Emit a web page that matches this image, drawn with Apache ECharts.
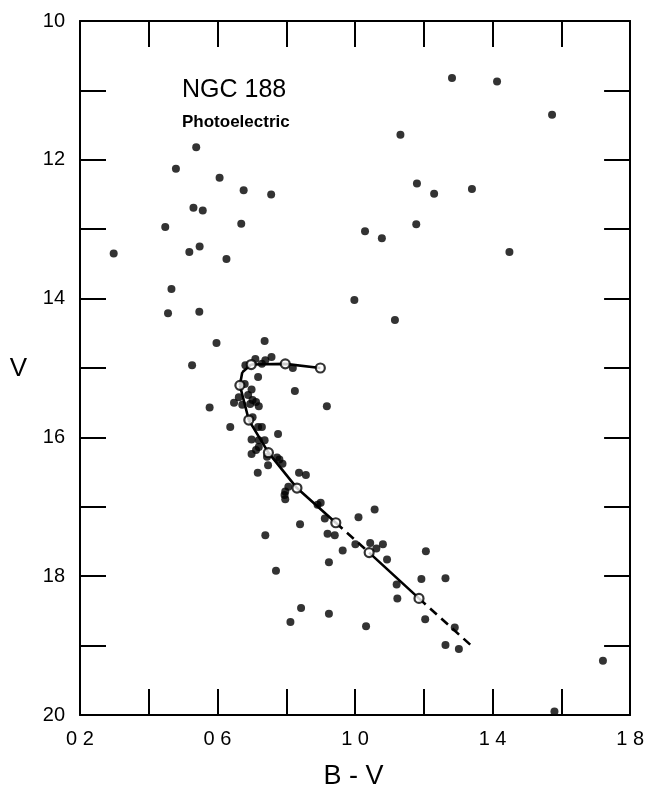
<!DOCTYPE html>
<html>
<head>
<meta charset="utf-8">
<script src="https://cdn.jsdelivr.net/npm/echarts@6/dist/echarts.min.js"></script>
<style>
  html, body { margin: 0; padding: 0; background: #fff; }
  #chart { width: 647px; height: 788px; }
</style>
</head>
<body>
<div id="chart"></div>
<script>
// ---- Data ----
// Filled dots: individual stars (B-V colour, V magnitude)
const starBV = [
  1.282, 1.413, 1.573, 1.132, 0.538, 0.479, 0.606, 0.676, 0.756, 1.18, 1.23, 1.34,
  0.53, 0.557, 0.448, 0.669, 1.029, 1.078, 1.178, 0.298, 0.518, 0.548, 1.449, 0.626,
  0.466, 0.998, 0.456, 0.547, 1.116, 0.597, 0.737, 0.526,
  0.710, 0.757, 0.681, 0.729, 0.739, 0.819, 0.718, 0.679, 0.699, 0.825, 0.648, 0.662,
  0.689, 0.702, 0.712, 0.672, 0.695, 0.72, 0.577, 0.918, 0.702, 0.718, 0.729, 0.637,
  0.776, 0.699, 0.72, 0.737, 0.72, 0.712, 0.699, 0.744, 0.773, 0.78, 0.747, 0.789,
  0.717, 0.837, 0.857, 0.806, 0.797, 0.795, 0.797, 0.891, 0.90, 0.912, 1.01, 1.057,
  0.84, 0.92, 0.941, 0.739,
  1.001, 1.044, 1.062, 1.081, 0.964, 1.206, 1.093, 0.770, 0.924, 1.121, 1.193, 1.263,
  1.123, 0.843, 0.924, 0.812, 1.032, 1.204, 1.29, 1.263, 1.302, 1.721, 1.58
];
const starV = [
  10.82, 10.87, 11.35, 11.64, 11.82, 12.13, 12.26, 12.44, 12.50, 12.34, 12.49, 12.42,
  12.69, 12.73, 12.97, 12.92, 13.03, 13.13, 12.93, 13.35, 13.33, 13.25, 13.33, 13.43,
  13.86, 14.02, 14.21, 14.19, 14.31, 14.64, 14.61, 14.96,
  14.87, 14.84, 14.96, 14.94, 14.89, 15.00, 15.13, 15.23, 15.31, 15.33, 15.50, 15.42,
  15.39, 15.46, 15.49, 15.53, 15.52, 15.55, 15.57, 15.55, 15.71, 15.85, 15.85, 15.85,
  15.95, 16.03, 16.04, 16.04, 16.14, 16.18, 16.24, 16.28, 16.29, 16.32, 16.40, 16.38,
  16.51, 16.51, 16.54, 16.71, 16.78, 16.83, 16.89, 16.97, 16.94, 17.17, 17.15, 17.04,
  17.25, 17.39, 17.41, 17.41,
  17.54, 17.52, 17.60, 17.54, 17.63, 17.64, 17.76, 17.92, 17.80, 18.12, 18.04, 18.03,
  18.32, 18.46, 18.54, 18.66, 18.72, 18.62, 18.74, 18.99, 19.05, 19.22, 19.95
];

// Open circles: normal points of the fiducial sequence
const fiducialBV = [0.899, 0.797, 0.698, 0.665, 0.691, 0.748, 0.831, 0.944, 1.041, 1.186];
const fiducialV  = [15.00, 14.94, 14.95, 15.25, 15.75, 16.22, 16.73, 17.23, 17.66, 18.32];

// Fiducial line vertices (drawn through the open circles)
const ridgeBV = [0.899, 0.797, 0.698, 0.672, 0.665, 0.691, 0.748, 0.831, 0.944, 1.041, 1.186, 1.338];
const ridgeV  = [15.00, 14.94, 14.95, 15.06, 15.25, 15.75, 16.22, 16.73, 17.23, 17.66, 18.32, 19.00];
// Segments (index i = from vertex i to i+1) drawn dashed
const dashedSegments = [8, 10];

// Axis ticks / labels
const xLabelValues = [0.2, 0.6, 1.0, 1.4, 1.8];
const xLabelTexts  = ['0 2', '0 6', '1 0', '1 4', '1 8'];
const yLabelValues = [10, 12, 14, 16, 18, 20];
const yLabelTexts  = ['10', '12', '14', '16', '18', '20'];

// ---- Build series data ----
const stars = starBV.map((x, i) => [x, starV[i]]);
const fiducial = fiducialBV.map((x, i) => [x, fiducialV[i]]);

const solidData = [];
const dashedData = [];
for (let i = 0; i < ridgeBV.length - 1; i++) {
  const a = [ridgeBV[i], ridgeV[i]];
  const b = [ridgeBV[i + 1], ridgeV[i + 1]];
  const target = dashedSegments.includes(i) ? dashedData : solidData;
  target.push(a, b, '-');
}

function labelFor(values, texts) {
  return function (v) {
    for (let i = 0; i < values.length; i++) {
      if (Math.abs(values[i] - v) < 1e-6) return texts[i];
    }
    return '';
  };
}

const FONT = 'Liberation Sans';
const INK = '#000';
const axisLineStyle = { show: true, lineStyle: { color: INK, width: 2 } };
const tickStyle = { show: true, inside: true, length: 26, lineStyle: { color: INK, width: 2 } };

const chart = echarts.init(document.getElementById('chart'), null, { renderer: 'canvas' });
chart.setOption({
  animation: false,
  backgroundColor: '#fff',
  grid: { left: 80, right: 13, top: 21, bottom: 73, containLabel: false },
  xAxis: [
    {
      type: 'value', min: 0.2, max: 1.8, interval: 0.2, position: 'bottom',
      axisLine: axisLineStyle, axisTick: tickStyle, splitLine: { show: false },
      axisLabel: {
        show: true, margin: 14, color: INK, fontFamily: FONT, fontSize: 20,
        showMinLabel: true, showMaxLabel: true,
        formatter: labelFor(xLabelValues, xLabelTexts)
      }
    },
    {
      type: 'value', min: 0.2, max: 1.8, interval: 0.2, position: 'top',
      axisLine: axisLineStyle, axisTick: tickStyle, splitLine: { show: false },
      axisLabel: { show: false }
    }
  ],
  yAxis: [
    {
      type: 'value', min: 10, max: 20, interval: 1, inverse: true, position: 'left',
      axisLine: axisLineStyle, axisTick: tickStyle, splitLine: { show: false },
      axisLabel: {
        show: true, margin: 15, color: INK, fontFamily: FONT, fontSize: 20,
        showMinLabel: true, showMaxLabel: true,
        formatter: labelFor(yLabelValues, yLabelTexts)
      }
    },
    {
      type: 'value', min: 10, max: 20, interval: 1, inverse: true, position: 'right',
      axisLine: axisLineStyle, axisTick: tickStyle, splitLine: { show: false },
      axisLabel: { show: false }
    }
  ],
  series: [
    {
      type: 'line', data: solidData, showSymbol: false, symbol: 'none',
      connectNulls: false, lineStyle: { color: INK, width: 2.6 }, z: 3, silent: true
    },
    {
      type: 'line', data: dashedData, showSymbol: false, symbol: 'none',
      connectNulls: false, lineStyle: { color: INK, width: 2.6, type: [9, 6] }, z: 3, silent: true
    },
    {
      type: 'scatter', data: stars, symbol: 'circle', symbolSize: 8,
      itemStyle: { color: INK }, z: 4, silent: true
    },
    {
      type: 'scatter', data: fiducial, symbol: 'circle', symbolSize: 9,
      itemStyle: { color: '#fff', borderColor: INK, borderWidth: 2.2 }, z: 5, silent: true
    }
  ],
  graphic: [
    { type: 'text', style: { x: 182, y: 90, text: 'NGC 188', fill: INK,
      font: '25px "' + FONT + '"', textAlign: 'left', textVerticalAlign: 'middle' } },
    { type: 'text', style: { x: 182, y: 122, text: 'Photoelectric', fill: INK,
      font: 'bold 17px "' + FONT + '"', textAlign: 'left', textVerticalAlign: 'middle' } },
    { type: 'text', style: { x: 18.5, y: 369, text: 'V', fill: INK,
      font: '26px "' + FONT + '"', textAlign: 'center', textVerticalAlign: 'middle' } },
    { type: 'text', style: { x: 353.5, y: 777, text: 'B - V', fill: INK,
      font: '27px "' + FONT + '"', textAlign: 'center', textVerticalAlign: 'middle' } }
  ]
});
</script>
</body>
</html>
